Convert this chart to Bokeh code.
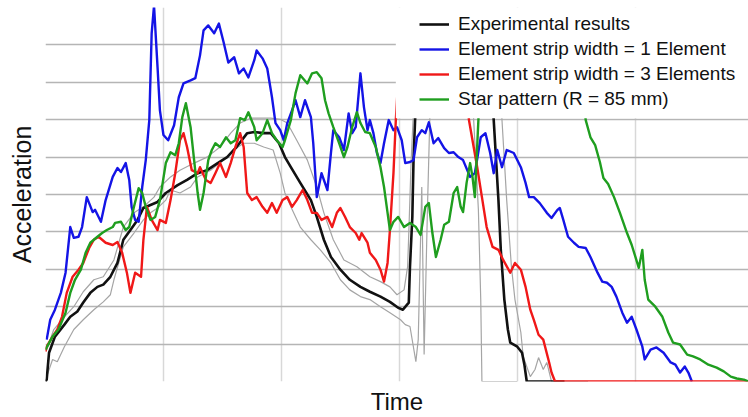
from bokeh.plotting import figure
from bokeh.models import FixedTicker, Legend, LegendItem, Range1d, BoxAnnotation
from bokeh.embed import file_html
from bokeh.resources import INLINE

# ---- data (time in grid units, acceleration in grid units) ----
black_time = [0.00, 0.01, 0.03, 0.08, 0.16, 0.21, 0.27, 0.32, 0.38, 0.44,
              0.49, 0.55, 0.61, 0.66, 0.72, 0.78, 0.83, 0.89, 0.95, 1.02,
              1.12, 1.20, 1.29, 1.37, 1.46, 1.54, 1.62, 1.71, 1.77, 1.85,
              1.91, 1.98, 2.03, 2.08, 2.16, 2.25, 2.30, 2.36, 2.42, 2.50,
              2.58, 2.67, 2.75, 2.84, 2.92, 2.99, 3.03, 3.08, 3.09, 3.11,
              3.12, 3.14, 3.15, 3.18, 3.43, 3.73, 3.77, 3.80, 3.84, 3.86,
              3.89, 3.92, 3.94, 4.00, 4.04, 4.06, 4.08, 4.40]
black_accel = [0.00, 0.05, 0.77, 1.20, 1.52, 1.73, 1.87, 2.11, 2.37, 2.53,
               2.59, 2.80, 3.17, 3.79, 4.05, 4.32, 4.64, 4.72, 4.80, 5.04,
               5.25, 5.39, 5.57, 5.65, 5.84, 6.00, 6.27, 6.64, 6.67, 6.64,
               6.64, 6.37, 6.00, 5.73, 5.31, 4.85, 4.40, 3.79, 3.33, 2.99,
               2.72, 2.53, 2.40, 2.27, 2.13, 1.97, 1.92, 2.11, 3.07, 4.40,
               5.92, 7.52, 9.12, 9.80, 9.90, 9.80, 8.60, 6.99, 4.85, 3.52,
               2.19, 1.39, 1.04, 0.93, 0.77, 0.45, 0.00, 0.00]

gray_upper_time = [0.01, 0.07, 0.16, 0.24, 0.32, 0.41, 0.49, 0.58, 0.66, 0.75,
                   0.83, 0.92, 0.97, 1.06, 1.14, 1.26, 1.37, 1.48, 1.57, 1.65,
                   1.74, 1.82, 1.91, 1.99, 2.05, 2.13, 2.22, 2.30, 2.36, 2.44,
                   2.53, 2.64, 2.75, 2.84, 2.92, 2.98, 3.04, 3.07, 3.08, 3.10,
                   3.12, 3.16, 3.19, 3.52, 3.83, 3.87, 3.91, 3.95, 3.98, 4.03,
                   4.05, 4.11, 4.15, 4.18, 4.22, 4.25, 4.29, 4.60]
gray_upper_accel = [0.85, 1.39, 1.73, 2.00, 2.40, 2.72, 2.80, 3.25, 4.13, 4.51,
                    4.67, 4.93, 5.20, 5.47, 5.65, 5.84, 6.00, 6.27, 6.64, 6.91,
                    7.04, 7.04, 7.04, 7.01, 6.91, 6.45, 5.92, 5.20, 4.51, 3.79,
                    3.25, 3.07, 2.80, 2.67, 2.53, 2.32, 2.45, 3.07, 3.97, 5.92,
                    7.25, 9.12, 9.70, 9.80, 9.60, 6.99, 4.85, 3.07, 2.19, 1.31,
                    0.67, 0.13, 0.32, 0.64, 0.32, 0.51, 0.00, 0.00]

gray_lower_time = [0.00, 0.01, 0.06, 0.10, 0.16, 0.24, 0.32, 0.41, 0.49, 0.55,
                   0.58, 0.66, 0.75, 0.83, 0.89, 0.95, 1.02, 1.06, 1.14, 1.23,
                   1.29, 1.40, 1.51, 1.62, 1.68, 1.77, 1.85, 1.93, 1.99, 2.03,
                   2.08, 2.16, 2.25, 2.33, 2.42, 2.50, 2.58, 2.67, 2.75, 2.84,
                   2.92, 3.01, 3.05, 3.09, 3.14, 3.16, 3.19, 3.21, 3.24, 3.26,
                   3.29, 3.43, 3.60, 3.63, 3.67, 3.69, 3.70, 4.00]
gray_lower_accel = [0.00, 0.13, 0.59, 0.53, 0.93, 1.39, 1.65, 1.92, 2.13, 2.32,
                    2.72, 3.60, 3.97, 4.32, 4.51, 4.64, 4.85, 5.12, 5.04, 5.20,
                    5.47, 5.65, 5.92, 6.24, 6.37, 6.37, 6.27, 6.19, 5.57, 5.04,
                    4.67, 4.13, 3.79, 3.52, 3.17, 2.72, 2.45, 2.27, 2.19, 2.00,
                    1.84, 1.65, 1.52, 1.47, 0.53, 1.12, 5.20, 0.72, 4.85, 7.25,
                    9.12, 9.80, 9.12, 6.99, 4.59, 2.19, 0.00, 0.00]

blue_time = [0.01, 0.04, 0.08, 0.13, 0.17, 0.21, 0.24, 0.28, 0.31, 0.35,
             0.40, 0.42, 0.47, 0.51, 0.57, 0.61, 0.64, 0.68, 0.71, 0.73,
             0.76, 0.79, 0.82, 0.85, 0.88, 0.90, 0.92, 0.95, 0.97, 1.00,
             1.04, 1.09, 1.13, 1.17, 1.23, 1.27, 1.31, 1.34, 1.38, 1.43,
             1.47, 1.51, 1.55, 1.60, 1.64, 1.68, 1.72, 1.77, 1.79, 1.84,
             1.88, 1.92, 1.95, 1.99, 2.02, 2.05, 2.09, 2.12, 2.16, 2.20,
             2.25, 2.27, 2.30, 2.34, 2.39, 2.42, 2.44, 2.49, 2.53, 2.57,
             2.60, 2.63, 2.67, 2.70, 2.73, 2.75, 2.78, 2.81, 2.84, 2.87,
             2.91, 2.95, 2.98, 3.02, 3.05, 3.09, 3.12, 3.15, 3.19, 3.22,
             3.25, 3.29, 3.33, 3.38, 3.42, 3.46, 3.50, 3.54, 3.60, 3.64,
             3.69, 3.73, 3.77, 3.80, 3.83, 3.87, 3.91, 3.97, 4.03, 4.07,
             4.10, 4.14, 4.19, 4.25, 4.29, 4.34, 4.36, 4.39, 4.43, 4.48,
             4.52, 4.58, 4.62, 4.68, 4.72, 4.76, 4.80, 4.84, 4.89, 4.93,
             4.97, 5.01, 5.06, 5.08, 5.13, 5.18, 5.24, 5.30, 5.34, 5.38,
             5.42, 5.45, 5.48]
blue_accel = [1.12, 1.65, 1.92, 2.37, 2.91, 4.13, 3.84, 3.87, 4.13, 4.93,
              4.53, 4.59, 4.27, 4.85, 5.47, 5.71, 5.60, 5.84, 5.39, 4.67,
              4.32, 4.27, 5.20, 5.92, 6.99, 9.31, 10.05, 8.40, 7.25, 6.59,
              6.45, 6.85, 7.60, 7.97, 8.05, 8.11, 8.72, 9.39, 9.52, 9.31,
              9.57, 9.07, 8.53, 8.67, 8.24, 8.37, 8.13, 8.59, 8.85, 8.64,
              8.37, 7.60, 6.91, 6.72, 6.45, 6.91, 7.25, 7.52, 7.07, 7.52,
              7.07, 6.37, 4.93, 5.57, 5.12, 6.11, 6.72, 6.53, 6.19, 7.17,
              6.64, 6.80, 8.24, 7.33, 6.72, 6.99, 6.64, 6.11, 5.84, 6.37,
              6.99, 6.72, 6.80, 6.45, 5.84, 5.87, 5.92, 6.53, 6.72, 6.64,
              6.93, 6.37, 6.51, 6.24, 6.11, 6.13, 6.00, 5.92, 5.47, 5.57,
              6.53, 6.64, 6.11, 5.57, 6.19, 5.73, 6.19, 6.11, 5.73, 5.31,
              4.93, 4.93, 4.77, 4.51, 4.37, 4.59, 4.64, 4.32, 3.87, 3.71,
              3.60, 3.57, 3.33, 2.91, 2.67, 2.64, 2.53, 2.27, 1.84, 1.57,
              1.73, 1.39, 0.93, 0.59, 0.85, 0.91, 0.77, 0.51, 0.45, 0.24,
              0.40, 0.24, 0.00]

red_time = [0.00, 0.01, 0.06, 0.10, 0.14, 0.18, 0.23, 0.28, 0.32, 0.37,
            0.41, 0.45, 0.51, 0.57, 0.61, 0.65, 0.69, 0.72, 0.76, 0.81,
            0.83, 0.86, 0.90, 0.95, 0.97, 1.02, 1.06, 1.10, 1.14, 1.17,
            1.20, 1.24, 1.29, 1.31, 1.36, 1.40, 1.44, 1.48, 1.53, 1.57,
            1.61, 1.65, 1.68, 1.71, 1.75, 1.79, 1.84, 1.88, 1.92, 1.96,
            2.01, 2.05, 2.09, 2.13, 2.18, 2.22, 2.26, 2.30, 2.34, 2.39,
            2.43, 2.47, 2.50, 2.54, 2.58, 2.63, 2.66, 2.68, 2.73, 2.75,
            2.80, 2.84, 2.87, 2.90, 2.92, 2.95, 2.97, 3.01, 3.04, 3.31,
            3.56, 3.59, 3.66, 3.70, 3.74, 3.79, 3.84, 3.88, 3.94, 3.98,
            4.03, 4.07, 4.11, 4.14, 4.18, 4.22, 4.27, 4.29, 4.32, 6.00]
red_accel = [0.80, 0.93, 1.20, 1.39, 1.73, 2.37, 2.80, 2.99, 3.17, 3.57,
             3.79, 3.87, 3.71, 3.65, 3.73, 3.44, 2.91, 2.37, 2.91, 2.80,
             3.79, 4.67, 4.32, 4.05, 4.32, 4.24, 4.85, 5.57, 6.45, 6.64,
             6.27, 5.65, 5.57, 5.73, 5.39, 5.31, 5.57, 5.84, 5.47, 5.84,
             6.27, 6.64, 6.27, 5.04, 4.85, 4.93, 4.67, 4.51, 4.77, 4.51,
             4.85, 4.93, 4.67, 4.85, 5.12, 4.85, 4.51, 4.51, 4.32, 4.40,
             4.13, 4.51, 4.64, 4.40, 4.13, 3.97, 3.79, 3.97, 3.71, 3.44,
             3.25, 2.99, 2.67, 3.17, 4.05, 5.57, 6.99, 9.12, 9.80, 9.90,
             8.59, 6.99, 5.73, 4.93, 4.13, 3.60, 3.52, 3.25, 2.91, 3.17,
             2.99, 2.53, 1.92, 1.65, 1.25, 1.12, 0.51, 0.24, 0.00, 0.00]

green_time = [0.00, 0.06, 0.11, 0.17, 0.21, 0.25, 0.30, 0.34, 0.38, 0.44,
              0.48, 0.52, 0.57, 0.59, 0.64, 0.68, 0.71, 0.75, 0.79, 0.82,
              0.85, 0.89, 0.93, 0.97, 1.02, 1.06, 1.10, 1.13, 1.16, 1.19,
              1.23, 1.26, 1.29, 1.31, 1.34, 1.38, 1.41, 1.44, 1.48, 1.53,
              1.57, 1.61, 1.65, 1.69, 1.72, 1.77, 1.79, 1.84, 1.88, 1.92,
              1.96, 2.01, 2.03, 2.08, 2.12, 2.16, 2.22, 2.26, 2.30, 2.34,
              2.37, 2.40, 2.44, 2.49, 2.53, 2.56, 2.60, 2.64, 2.67, 2.71,
              2.75, 2.80, 2.84, 2.87, 2.90, 2.92, 2.95, 2.99, 3.04, 3.09,
              3.14, 3.18, 3.22, 3.25, 3.28, 3.31, 3.35, 3.38, 3.42, 3.46,
              3.49, 3.52, 3.54, 3.57, 3.60, 3.62, 3.64, 3.67, 3.69, 4.11,
              4.53, 4.58, 4.62, 4.66, 4.70, 4.73, 4.77, 4.82, 4.87, 4.93,
              4.97, 5.03, 5.06, 5.08, 5.11, 5.17, 5.23, 5.28, 5.32, 5.38,
              5.44, 5.49, 5.55, 5.62, 5.69, 5.75, 5.81, 5.86, 5.92, 5.96]
green_accel = [0.85, 1.20, 1.39, 1.84, 2.37, 2.72, 2.99, 3.44, 3.71, 3.87,
               3.97, 4.05, 4.13, 4.24, 4.27, 4.05, 4.13, 4.67, 5.17, 5.04,
               4.67, 4.32, 4.40, 4.85, 5.84, 6.13, 6.05, 6.37, 7.07, 7.44,
               6.80, 5.92, 5.04, 4.59, 5.04, 5.92, 6.19, 6.37, 6.27, 6.53,
               6.37, 6.45, 7.04, 6.99, 7.20, 6.80, 6.45, 6.64, 6.99, 6.64,
               6.45, 6.27, 6.45, 6.99, 7.71, 8.19, 7.97, 8.24, 8.27, 8.11,
               7.52, 7.17, 6.80, 6.37, 6.00, 6.27, 6.80, 7.20, 6.91, 6.67,
               6.64, 6.27, 5.73, 5.20, 4.51, 4.05, 4.27, 4.40, 4.13, 4.24,
               4.13, 3.92, 4.67, 4.77, 3.97, 3.33, 3.79, 4.19, 4.27, 5.04,
               5.20, 4.67, 4.53, 5.31, 5.84, 5.47, 4.93, 6.99, 8.59, 9.90,
               8.59, 6.99, 6.53, 6.32, 5.87, 5.44, 5.28, 4.93, 4.51, 3.97,
               3.65, 3.04, 3.52, 2.72, 2.19, 2.00, 1.73, 1.31, 1.04, 0.99,
               0.72, 0.67, 0.59, 0.45, 0.37, 0.27, 0.13, 0.08, 0.05, 0.00]

legend_labels = ["Experimental results",
                 "Element strip width = 1 Element",
                 "Element strip width = 3 Elements",
                 "Star pattern (R = 85 mm)"]
grid_time_ticks = [0, 1, 2, 3, 4, 5]
grid_accel_ticks = [0, 1, 2, 3, 4, 5, 6, 7, 8, 9, 10]
time_range = (0, 5.96)
accel_range = (0, 10)

FONT = "Liberation Sans"

p = figure(width=748, height=417, output_backend="svg", toolbar_location=None,
           x_range=Range1d(*time_range), y_range=Range1d(*accel_range),
           min_border_left=45, min_border_right=0, min_border_top=7,
           min_border_bottom=35)
p.background_fill_color = "white"
p.border_fill_color = "white"
p.outline_line_color = None

for ax in (p.xaxis[0], p.yaxis[0]):
    ax.ticker = FixedTicker(ticks=[])
    ax.axis_line_color = None
    ax.major_tick_line_color = None
    ax.minor_tick_line_color = None
    ax.major_label_text_font_size = "0px"
    ax.axis_label_text_font = FONT
    ax.axis_label_text_font_style = "normal"
    ax.axis_label_text_color = "#111111"
p.xaxis.axis_label = "Time"
p.xaxis.axis_label_text_font_size = "24px"
p.xaxis.axis_label_standoff = 6
p.yaxis.axis_label = "Acceleration"
p.yaxis.axis_label_text_font_size = "25px"
p.yaxis.axis_label_standoff = 10

p.xgrid.ticker = FixedTicker(ticks=grid_time_ticks)
p.ygrid.ticker = FixedTicker(ticks=grid_accel_ticks)
p.xgrid.grid_line_color = "#d8d8d8"
p.xgrid.grid_line_width = 1.5
p.ygrid.grid_line_color = "#b5b5b5"
p.ygrid.grid_line_width = 1.5

p.line(gray_upper_time, gray_upper_accel, line_color="#a5a5a5", line_width=1.2)
p.line(gray_lower_time, gray_lower_accel, line_color="#a5a5a5", line_width=1.2)
r_black = p.line(black_time, black_accel, line_color="#111111", line_width=2.6, line_join="round")
r_blue = p.line(blue_time, blue_accel, line_color="#1414e6", line_width=2.4, line_join="round")
r_red = p.line(red_time, red_accel, line_color="#f01818", line_width=2.4, line_join="round")
r_green = p.line(green_time, green_accel, line_color="#1f9e1f", line_width=2.4, line_join="round")

# white backing of the legend area
p.add_layout(BoxAnnotation(left=2.97, right=time_range[1], bottom=7.04, top=accel_range[1],
                           fill_color="white", fill_alpha=1.0, line_color=None,
                           level="annotation"))

legend = Legend(items=[LegendItem(label=legend_labels[0], renderers=[r_black]),
                       LegendItem(label=legend_labels[1], renderers=[r_blue]),
                       LegendItem(label=legend_labels[2], renderers=[r_red]),
                       LegendItem(label=legend_labels[3], renderers=[r_green])],
                location="top_right", margin=6, padding=8, spacing=3,
                glyph_width=30, glyph_height=20, label_height=22, label_standoff=9,
                label_width=284,
                label_text_font=FONT, label_text_font_size="19px",
                label_text_color="#111111",
                border_line_color=None, background_fill_alpha=0.0)
p.add_layout(legend)

open("out.html", "w").write(file_html(p, INLINE))
